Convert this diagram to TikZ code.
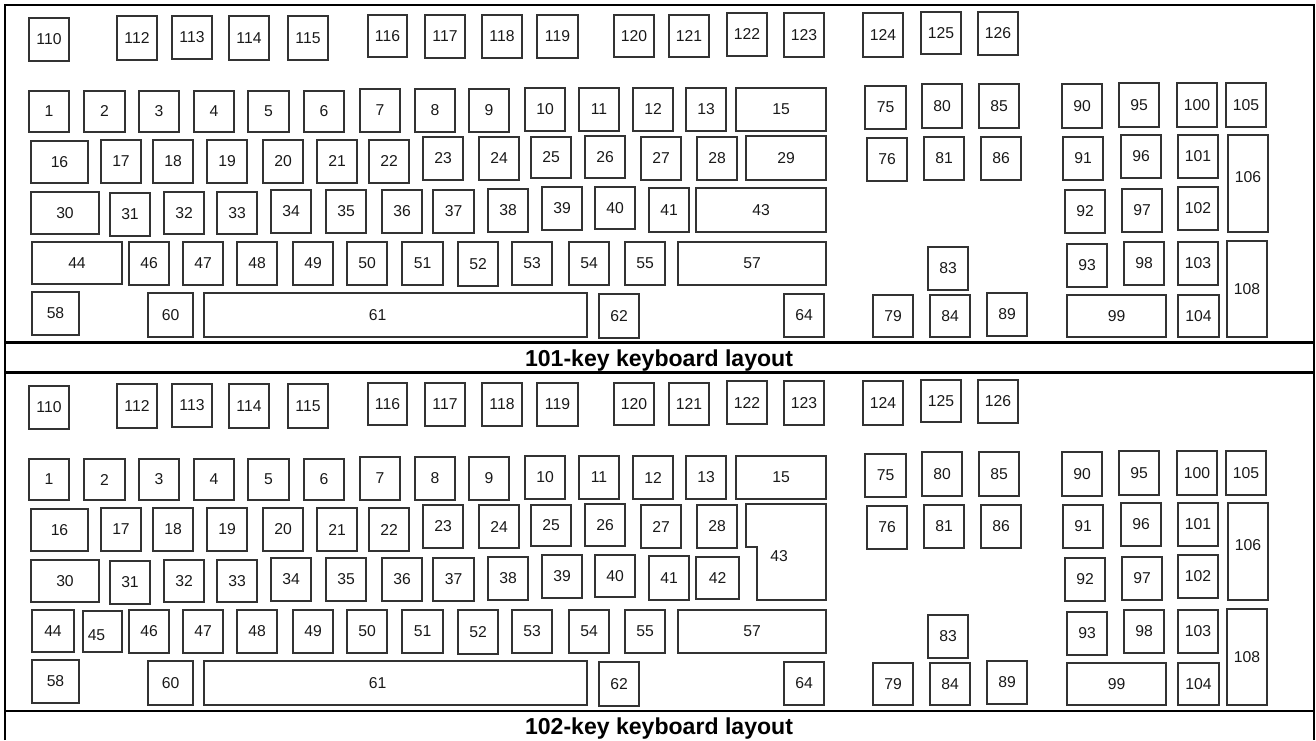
\documentclass[tikz,border=0pt]{standalone}
\usepackage{fontspec}
\setmainfont{Liberation Sans}
\begin{document}
\begin{tikzpicture}[x=0.75pt,y=-0.75pt,
  keybox/.style={draw=black!80,line width=0.85pt,inner sep=0pt,outer sep=0pt},
  keylabel/.style={inner sep=0pt,font=\fontsize{11.8}{12}\selectfont,text=black!90},
  caption/.style={inner sep=0pt,anchor=base,font=\bfseries\fontsize{17.3}{19}\selectfont},
  frameline/.style={line width=1.9pt,black}]
\useasboundingbox (0,0) rectangle (1316,740);
\newcommand\kb[6][]{%
  \node[keybox,minimum width={(#5-#3)*0.75pt},minimum height={(#6-#4)*0.75pt}] (\pf k#2) at ({(#3+#5)/2},{(#4+#6)/2}) {};
  \node[keylabel,#1] (\pf t#2) at (\pf k#2.center) {#2};}
\newcommand\common{%
\kb{110}{29}{18}{69}{61}
\kb{112}{117}{16}{157}{60}
\kb{113}{172}{16}{212}{59}
\kb{114}{229}{16}{269}{60}
\kb{115}{288}{16}{328}{60}
\kb{116}{368}{15}{407}{57}
\kb{117}{425}{15}{465}{58}
\kb{118}{482}{15}{522}{58}
\kb{119}{537}{15}{578}{58}
\kb{120}{614}{15}{654}{57}
\kb{121}{669}{15}{709}{57}
\kb{122}{727}{13}{767}{56}
\kb{123}{784}{13}{824}{57}
\kb{124}{863}{13}{903}{57}
\kb{125}{921}{12}{961}{54}
\kb{126}{978}{12}{1018}{55}
\kb{1}{29}{91}{69}{132}
\kb{2}{84}{91}{125}{132}
\kb{3}{139}{91}{179}{132}
\kb{4}{194}{91}{234}{132}
\kb{5}{248}{91}{289}{132}
\kb{6}{304}{91}{344}{132}
\kb{7}{360}{89}{400}{132}
\kb{8}{415}{89}{455}{132}
\kb{9}{469}{89}{509}{132}
\kb{10}{525}{88}{565}{131}
\kb{11}{579}{88}{619}{131}
\kb{12}{633}{88}{673}{131}
\kb{13}{686}{88}{726}{131}
\kb{15}{736}{88}{826}{131}
\kb{75}{865}{86}{906}{129}
\kb{80}{922}{84}{962}{128}
\kb{85}{979}{84}{1019}{128}
\kb{90}{1062}{84}{1102}{128}
\kb{95}{1119}{83}{1159}{127}
\kb{100}{1177}{83}{1217}{127}
\kb{105}{1226}{83}{1266}{127}
\kb{16}{31}{141}{88}{183}
\kb{17}{101}{140}{141}{183}
\kb{18}{153}{140}{193}{183}
\kb{19}{207}{140}{247}{183}
\kb{20}{263}{140}{303}{183}
\kb{21}{317}{140}{357}{183}
\kb{22}{369}{140}{409}{183}
\kb{23}{423}{137}{463}{180}
\kb{24}{479}{137}{519}{180}
\kb{25}{531}{137}{571}{178}
\kb{26}{585}{136}{625}{178}
\kb{27}{641}{137}{681}{180}
\kb{28}{697}{137}{737}{180}
\kb{76}{867}{138}{907}{181}
\kb{81}{924}{137}{964}{180}
\kb{86}{981}{137}{1021}{180}
\kb{91}{1063}{137}{1103}{180}
\kb{96}{1121}{135}{1161}{178}
\kb{101}{1178}{135}{1218}{178}
\kb[yshift=4.5pt]{106}{1228}{135}{1268}{232}
\kb{30}{31}{192}{99}{234}
\kb{31}{110}{193}{150}{236}
\kb{32}{164}{192}{204}{234}
\kb{33}{217}{192}{257}{234}
\kb{34}{271}{190}{311}{233}
\kb{35}{326}{190}{366}{233}
\kb{36}{382}{190}{422}{233}
\kb{37}{433}{190}{474}{233}
\kb{38}{488}{189}{528}{232}
\kb{39}{542}{187}{582}{230}
\kb{40}{595}{187}{635}{229}
\kb{41}{649}{188}{689}{232}
\kb{92}{1065}{190}{1105}{233}
\kb{97}{1122}{189}{1162}{232}
\kb{102}{1178}{187}{1218}{230}
\kb{46}{129}{242}{169}{285}
\kb{47}{183}{242}{223}{285}
\kb{48}{237}{242}{277}{285}
\kb{49}{293}{242}{333}{285}
\kb{50}{347}{242}{387}{285}
\kb{51}{402}{242}{443}{285}
\kb{52}{458}{242}{498}{286}
\kb{53}{512}{242}{552}{285}
\kb{54}{569}{242}{609}{285}
\kb{55}{625}{242}{665}{285}
\kb{57}{678}{242}{826}{285}
\kb{83}{928}{247}{968}{290}
\kb{93}{1067}{244}{1107}{287}
\kb{98}{1124}{242}{1164}{285}
\kb{103}{1178}{242}{1218}{285}
\kb{108}{1227}{241}{1267}{337}
\kb{58}{32}{292}{79}{335}
\kb{60}{148}{293}{193}{337}
\kb[xshift=-13.5pt]{61}{204}{293}{587}{337}
\kb{62}{599}{294}{639}{338}
\kb{64}{784}{294}{824}{337}
\kb{79}{873}{295}{913}{337}
\kb{84}{930}{295}{970}{337}
\kb{89}{987}{293}{1027}{336}
\kb{99}{1067}{295}{1166}{337}
\kb{104}{1178}{295}{1219}{337}
}
% frame
\coordinate (tl) at (5,5); \coordinate (tr) at (1314,5);
\coordinate (bl) at (5,740); \coordinate (br) at (1314,740);
\coordinate (h1l) at (5,342.5); \coordinate (h1r) at (1314,342.5);
\coordinate (h2l) at (5,372.5); \coordinate (h2r) at (1314,372.5);
\coordinate (h3l) at (5,711); \coordinate (h3r) at (1314,711);
\draw[frameline] (bl) -- (tl) -- (tr) -- (br);
\draw[frameline] (h1l) -- (h1r);
\draw[frameline] (h2l) -- (h2r);
\draw[frameline] (h3l) -- (h3r);
% panel 1
\def\pf{a}
\common
\kb{29}{746}{136}{826}{180}
\kb{43}{696}{188}{826}{232}
\kb{44}{32}{242}{122}{284}
\node[caption] (cap1) at (659,366) {101-key keyboard layout};
% panel 2
\begin{scope}[yshift=-276pt]
\def\pf{b}
\common
\kb{42}{696}{189}{739}{231}
\kb{44}{32}{242}{74}{284}
\kb[xshift=-4.5pt,yshift=-2.5pt]{45}{83}{243}{122}{284}
\coordinate (e1) at (746,136); \coordinate (e2) at (826,136);
\coordinate (e3) at (826,232); \coordinate (e4) at (757,232);
\coordinate (e5) at (757,179); \coordinate (e6) at (746,179);
\draw[draw=black!80,line width=0.85pt] (e1) -- (e2) -- (e3) -- (e4) -- (e5) -- (e6) -- cycle;
\node[keylabel] (bt43) at (779,188) {43};
\end{scope}
\node[caption] (cap2) at (659,734) {102-key keyboard layout};
\end{tikzpicture}
\end{document}
